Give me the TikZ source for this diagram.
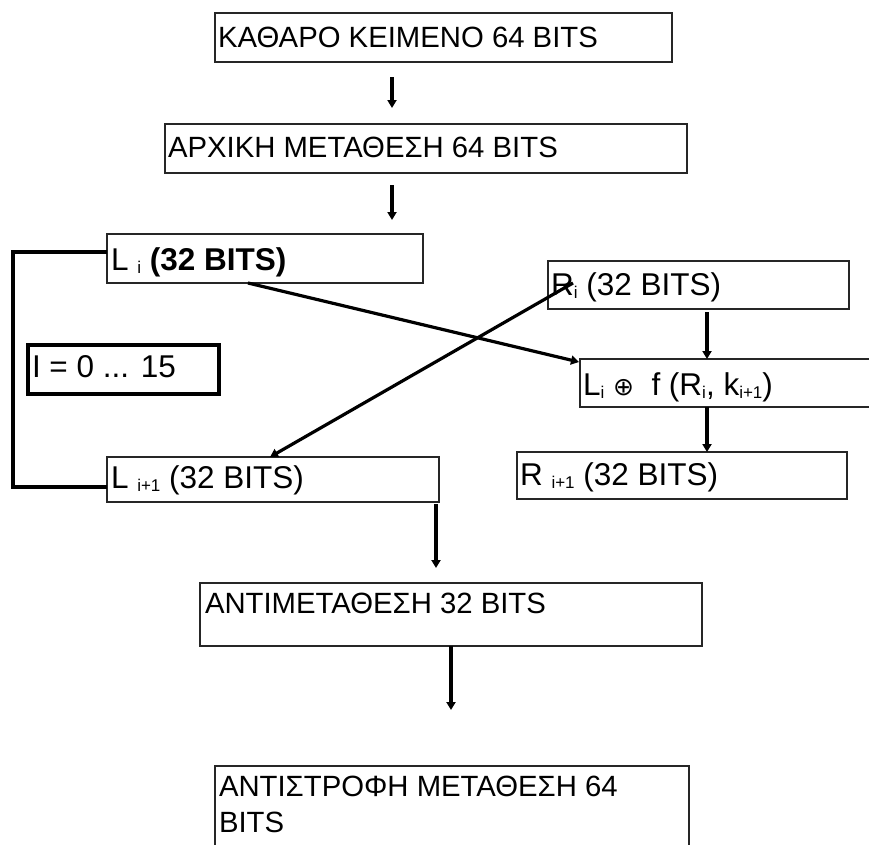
\documentclass[tikz,border=0pt]{standalone}
\usepackage{fontspec}
\setmainfont{Liberation Sans}
\newfontfamily\symfont{DejaVu Sans}
\usetikzlibrary{arrows.meta}
\newcommand\subs[1]{\raisebox{-3pt}{\fontsize{17}{17}\selectfont #1}}
\begin{document}
\begin{tikzpicture}[x=1pt,y=-1pt,
  box/.style={draw=black!85, line width=1.7pt, rectangle, anchor=north west, inner sep=0pt, outer sep=0pt},
  heavybox/.style={box, draw=black, line width=3.4pt},
  txt/.style={anchor=base west, inner sep=0pt, outer sep=0pt},
  big/.style={font=\fontsize{29.3}{36}\selectfont},
  mid/.style={font=\fontsize{31.5}{36}\selectfont},
  arr/.style={line width=3.2pt, -{Triangle[width=9pt,length=8pt]}},
  wire/.style={line width=3.4pt}]
\path[use as bounding box, clip] (0,0) rectangle (869,844);
\fill[white] (0,0) rectangle (869,844);
% boxes
\node[box, minimum width=457pt, minimum height=49pt] (b1) at (215,13) {};
\node[box, minimum width=522pt, minimum height=49pt] (b2) at (165,124) {};
\node[box, minimum width=316pt, minimum height=49pt] (Li) at (107,234) {};
\node[box, minimum width=301pt, minimum height=48pt] (Ri) at (548,261) {};
\node[heavybox, minimum width=191pt, minimum height=49pt] (it) at (28,345) {};
\node[box, minimum width=310pt, minimum height=48pt] (Lf) at (580,359) {};
\node[box, minimum width=330pt, minimum height=47pt] (Rip) at (517,452) {};
\node[box, minimum width=332pt, minimum height=45pt] (Lip) at (107,457) {};
\node[box, minimum width=502pt, minimum height=63pt] (ant) at (200,583) {};
\node[box, minimum width=474pt, minimum height=100pt] (inv) at (215,766) {};
% texts
\node[txt,big] (b1t) at ([shift={(3pt,-34pt)}]b1.north west) {ΚΑΘΑΡΟ ΚΕΙΜΕΝΟ 64 BITS};
\node[txt,big] (b2t) at ([shift={(3pt,-33pt)}]b2.north west) {ΑΡΧΙΚΗ ΜΕΤΑΘΕΣΗ 64 BITS};
\node[txt,mid] (Lit) at ([shift={(4pt,-36pt)}]Li.north west) {L \subs{i} \textbf{(32 BITS)}};
\node[txt,mid] (Rit) at ([shift={(3pt,-34pt)}]Ri.north west) {R\subs{i} (32 BITS)};
\node[txt,mid] (itt) at ([shift={(4pt,-32pt)}]it.north west) {I = 0 ... 15};
\node[txt,mid] (Lft) at ([shift={(3pt,-36pt)}]Lf.north west) {L\subs{i} {\symfont\fontsize{25}{25}\selectfont ⊕}\ \ f (R\subs{i}, k\subs{i+1})};
\node[txt,mid] (Ript) at ([shift={(3pt,-33pt)}]Rip.north west) {R \subs{i+1} (32 BITS)};
\node[txt,mid] (Lipt) at ([shift={(4pt,-31pt)}]Lip.north west) {L \subs{i+1} (32 BITS)};
\node[txt,big] (antt) at ([shift={(5pt,-30pt)}]ant.north west) {ΑΝΤΙΜΕΤΑΘΕΣΗ 32 BITS};
\node[txt,big] (invt) at ([shift={(4pt,-30pt)}]inv.north west) {\begin{tabular}[t]{@{}l@{}}ΑΝΤΙΣΤΡΟΦΗ ΜΕΤΑΘΕΣΗ 64\\BITS\end{tabular}};
% connectors
\coordinate (xa) at (392,0);
\coordinate (xb) at (707,0);
\coordinate (xc) at (436,0);
\coordinate (xd) at (451,0);
\draw[arr, shorten <=15pt, shorten >=16pt] (b1.south -| xa) -- (b2.north -| xa);
\draw[arr, shorten <=12pt, shorten >=14pt] (b2.south -| xa) -- (Li.north -| xa);
\draw[arr, shorten <=3pt] (Ri.south -| xb) -- (Lf.north -| xb);
\draw[arr] (Lf.south -| xb) -- (Rip.north -| xb);
\draw[arr, shorten <=2pt, shorten >=15pt] (Lip.south -| xc) -- (ant.north -| xc);
\draw[arr, shorten >=56pt] (ant.south -| xd) -- (inv.north -| xd);
\draw[arr] ([xshift=141pt]Li.south west) -- ([shift={(-1pt,-3pt)}]Lf.north west);
\draw[arr] ([shift={(25pt,-22pt)}]Ri.north west) -- ([xshift=163pt]Lip.north west);
\draw[wire] ([yshift=-18pt]Li.north west) -- ++(-94,0) |- ([yshift=-30pt]Lip.north west);
\end{tikzpicture}
\end{document}
